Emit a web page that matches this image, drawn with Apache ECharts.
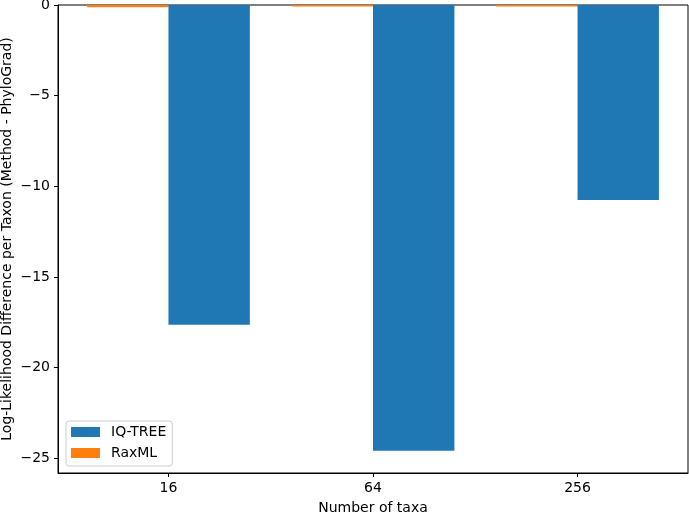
<!DOCTYPE html>
<head>
    <meta charset="utf-8">
    <title>Log-likelihood difference per taxon</title>
</head>
<body style="margin:0">
    <script type="text/javascript" src="https://cdn.jsdelivr.net/npm/echarts@6/dist/echarts.min.js"></script>

    <div id="main" style="width: 689px;height:514px;"></div>

    <script type="text/javascript">
        var taxa = ['16', '64', '256'];          // x 轴类别
        var iqtree = [-17.63, -24.58, -10.75];    // IQ-TREE
        var raxml = [-0.12, -0.08, -0.08];        // RaxML
        var yTicks = [0, -5, -10, -15, -20, -25];

        var font = 'DejaVu Sans';

        function pairs(vals) {
            var out = [];
            for (var i = 0; i < vals.length; i++) {
                out.push([i, vals[i]]);
            }
            return out;
        }

        var myChart = echarts.init(document.getElementById('main'));
        myChart.setOption({
            animation: false,
            grid: {
                left: 58, top: 5, right: 1, bottom: 41,
                outerBoundsMode: 'none',
                containLabel: false,
                show: true,
                borderColor: '#000',
                borderWidth: 1
            },
            legend: {
                orient: 'vertical',
                left: 66, top: 421,
                data: ['IQ-TREE', 'RaxML'],
                icon: 'rect',
                itemWidth: 29,
                itemHeight: 10,
                itemGap: 7,
                padding: [4, 6, 6, 5],
                borderColor: '#cccccc',
                borderWidth: 1,
                borderRadius: 3,
                backgroundColor: 'rgba(255,255,255,0.8)',
                textStyle: {
                    fontFamily: font, fontSize: 14, color: '#000',
                    lineHeight: 14, padding: [0, 0, 0, 6]
                }
            },
            xAxis: {
                type: 'value',
                min: -0.54,
                max: 2.54,
                name: 'Number of taxa',
                nameLocation: 'middle',
                nameGap: 28,
                nameMoveOverlap: false,
                nameTextStyle: { fontFamily: font, fontSize: 14, color: '#000' },
                splitLine: { show: false },
                axisLine: { show: true, onZero: false, lineStyle: { color: '#000' } },
                axisTick: {
                    show: true, length: 4,
                    customValues: [0, 1, 2],
                    lineStyle: { color: '#000' }
                },
                axisLabel: {
                    customValues: [0, 1, 2],
                    margin: 8,
                    fontFamily: font, fontSize: 14, color: '#000',
                    formatter: function (v) { return taxa[Math.round(v)]; }
                }
            },
            yAxis: {
                type: 'value',
                min: -25.81,
                max: 0,
                name: 'Log-Likelihood Difference per Taxon (Method - PhyloGrad)',
                nameLocation: 'middle',
                nameGap: 44,
                nameMoveOverlap: false,
                nameTextStyle: { fontFamily: font, fontSize: 14, color: '#000' },
                splitLine: { show: false },
                axisLine: { show: true, onZero: false, lineStyle: { color: '#000' } },
                axisTick: {
                    show: true, length: 4,
                    customValues: yTicks,
                    lineStyle: { color: '#000' }
                },
                axisLabel: {
                    customValues: yTicks,
                    margin: 8,
                    fontFamily: font, fontSize: 14, color: '#000',
                    formatter: function (v) { return v < 0 ? '\u2212' + (-v) : String(v); }
                }
            },
            series: [
                {
                    name: 'RaxML',
                    type: 'bar',
                    barWidth: 81.4,
                    barGap: 0,
                    itemStyle: { color: '#ff7f0e' },
                    data: pairs(raxml)
                },
                {
                    name: 'IQ-TREE',
                    type: 'bar',
                    barWidth: 81.4,
                    barGap: 0,
                    itemStyle: { color: '#1f77b4' },
                    data: pairs(iqtree)
                }
            ]
        });
    </script>
</body>
